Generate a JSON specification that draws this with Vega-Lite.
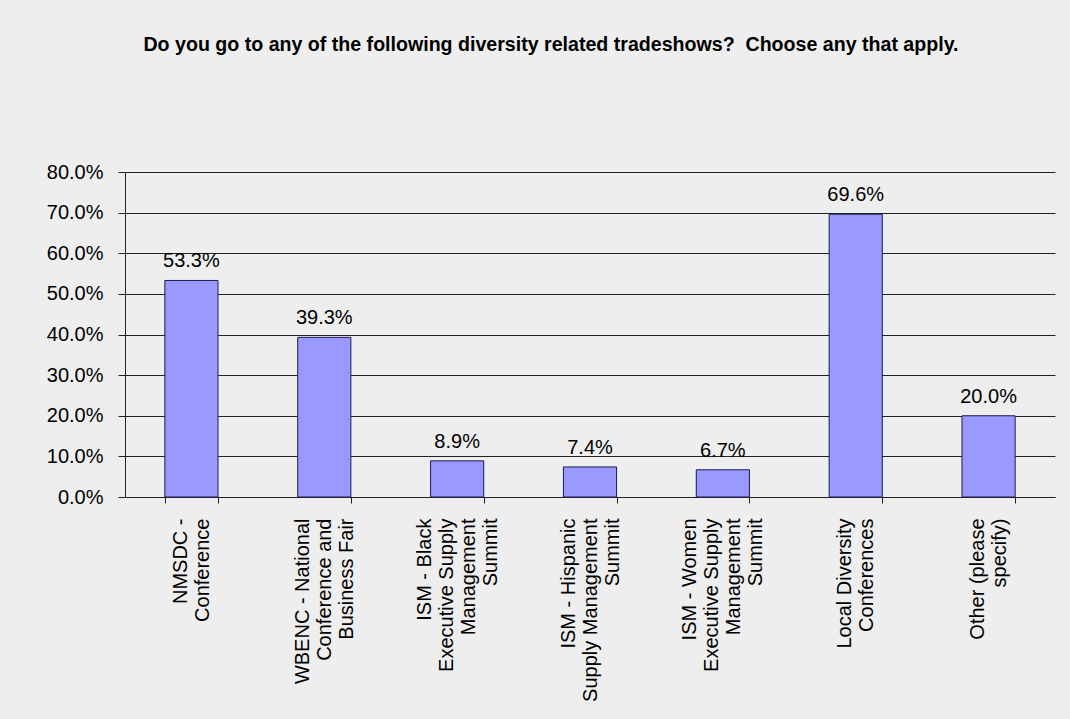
{
  "$schema": "https://vega.github.io/schema/vega-lite/v6.json",
  "width": 930,
  "height": 325,
  "autosize": "none",
  "padding": {"left": 125, "top": 172, "right": 15, "bottom": 222},
  "background": "#EEEEEE",
  "title": {
    "text": "Do you go to any of the following diversity related tradeshows?\u00a0 Choose any that apply.",
    "anchor": "middle",
    "frame": "group",
    "dx": -39,
    "offset": 106,
    "font": "Liberation Sans",
    "fontSize": 19.6,
    "fontWeight": "bold",
    "color": "#000000"
  },
  "data": {
    "values": [
      {"show": "NMSDC -|Conference", "pct": 0.533},
      {"show": "WBENC - National|Conference and|Business Fair", "pct": 0.393},
      {"show": "ISM -  Black|Executive Supply|Management|Summit", "pct": 0.089},
      {"show": "ISM - Hispanic|Supply Management|Summit", "pct": 0.074},
      {"show": "ISM - Women|Executive Supply|Management|Summit", "pct": 0.067},
      {"show": "Local Diversity|Conferences", "pct": 0.696},
      {"show": "Other (please|specify)", "pct": 0.2}
    ]
  },
  "encoding": {
    "x": {
      "field": "show",
      "type": "nominal",
      "sort": null,
      "scale": {"paddingInner": 0.6, "paddingOuter": 0.3},
      "axis": {
        "title": null,
        "labelExpr": "isString(datum.value) ? split(datum.value, '|') : ''",
        "labelAngle": -90,
        "labelAlign": "right",
        "labelBaseline": "middle",
        "labelPadding": 15,
        "labelOffset": {
          "condition": [
            {"test": "isString(datum.value) && length(split(datum.value, '|')) == 2", "value": -11},
            {"test": "isString(datum.value) && length(split(datum.value, '|')) == 3", "value": -22},
            {"test": "isString(datum.value) && length(split(datum.value, '|')) == 4", "value": -33}
          ],
          "value": 0
        },
        "labelFont": "Liberation Sans",
        "labelFontSize": 20,
        "labelLineHeight": 22,
        "labelLimit": 400,
        "labelColor": "#000000",
        "tickBand": "extent",
        "tickSize": 6,
        "tickColor": "#222222",
        "domainColor": "#222222",
        "grid": false
      }
    },
    "y": {
      "field": "pct",
      "type": "quantitative",
      "scale": {"domain": [0, 0.8], "nice": false},
      "axis": {
        "title": null,
        "values": [0, 0.1, 0.2, 0.3, 0.4, 0.5, 0.6, 0.7, 0.8],
        "format": ".1%",
        "labelFont": "Liberation Sans",
        "labelFontSize": 20,
        "labelColor": "#000000",
        "labelPadding": 15,
        "tickSize": 7,
        "tickColor": "#222222",
        "domainColor": "#222222",
        "grid": true,
        "gridColor": "#222222",
        "gridWidth": 1
      }
    }
  },
  "layer": [
    {
      "mark": {"type": "bar", "fill": "#9999FF", "stroke": "#1c1c50", "strokeWidth": 1}
    },
    {
      "mark": {"type": "text", "baseline": "alphabetic", "dy": -13, "font": "Liberation Sans", "fontSize": 20, "color": "#000000"},
      "encoding": {
        "text": {"field": "pct", "type": "quantitative", "format": ".1%"}
      }
    }
  ],
  "config": {
    "view": {"stroke": null}
  }
}
